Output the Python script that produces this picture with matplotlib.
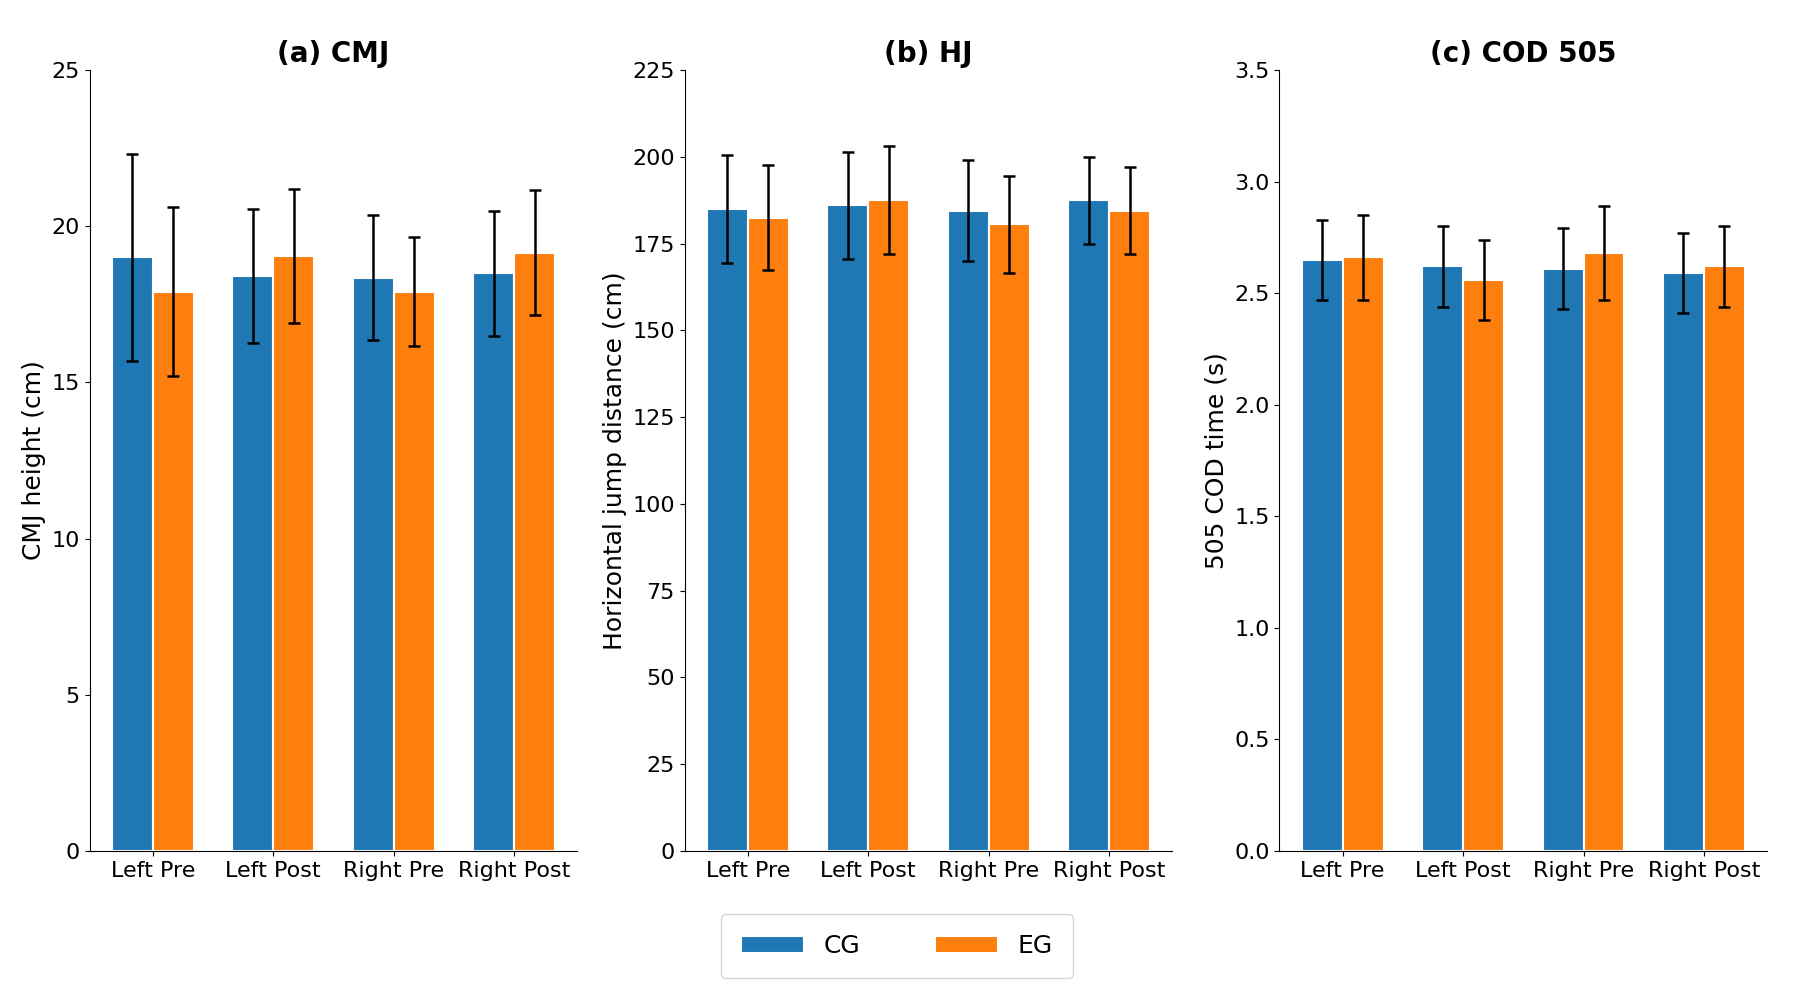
import matplotlib
matplotlib.use("Agg")
import matplotlib.pyplot as plt
import numpy as np

categories = ["Left Pre", "Left Post", "Right Pre", "Right Post"]
cmj_cg = [19.0, 18.4, 18.35, 18.5]; cmj_cg_sd = [3.3, 2.15, 2.0, 2.0]
cmj_eg = [17.9, 19.05, 17.9, 19.15]; cmj_eg_sd = [2.7, 2.15, 1.75, 2.0]
hj_cg = [185.0, 186.0, 184.5, 187.5]; hj_cg_sd = [15.5, 15.5, 14.5, 12.5]
hj_eg = [182.5, 187.5, 180.5, 184.5]; hj_eg_sd = [15.0, 15.5, 14.0, 12.5]
cod_cg = [2.65, 2.62, 2.61, 2.59]; cod_cg_sd = [0.18, 0.18, 0.18, 0.18]
cod_eg = [2.66, 2.56, 2.68, 2.62]; cod_eg_sd = [0.19, 0.18, 0.21, 0.18]

panels = [
    ("(a) CMJ", "CMJ height (cm)", cmj_cg, cmj_cg_sd, cmj_eg, cmj_eg_sd, (0, 25), np.arange(0, 26, 5), "{:.0f}"),
    ("(b) HJ", "Horizontal jump distance (cm)", hj_cg, hj_cg_sd, hj_eg, hj_eg_sd, (0, 225), np.arange(0, 226, 25), "{:.0f}"),
    ("(c) COD 505", "505 COD time (s)", cod_cg, cod_cg_sd, cod_eg, cod_eg_sd, (0, 3.5), np.arange(0, 3.51, 0.5), "{:.1f}"),
]

fig, axes = plt.subplots(1, 3, figsize=(17.94, 10.01), dpi=100)
x = np.arange(len(categories))
w = 0.34
for ax, (title, ylabel, cg, cgs, eg, egs, ylim, ticks, fmt) in zip(axes, panels):
    b1 = ax.bar(x - w/2, cg, w, yerr=cgs, capsize=4, color="#1f77b4", edgecolor="white", linewidth=1.5,
                error_kw=dict(elinewidth=1.8, capthick=1.8), label="CG")
    b2 = ax.bar(x + w/2, eg, w, yerr=egs, capsize=4, color="#ff7f0e", edgecolor="white", linewidth=1.5,
                error_kw=dict(elinewidth=1.8, capthick=1.8), label="EG")
    ax.set_title(title, fontsize=20, fontweight="bold")
    ax.set_ylabel(ylabel, fontsize=18)
    ax.set_ylim(*ylim)
    ax.set_yticks(ticks)
    ax.set_yticklabels([fmt.format(t) for t in ticks])
    ax.set_xticks(x)
    ax.set_xticklabels(categories)
    ax.tick_params(labelsize=16)
    ax.spines["top"].set_visible(False)
    ax.spines["right"].set_visible(False)

fig.subplots_adjust(left=0.05, right=0.985, top=0.93, bottom=0.15, wspace=0.22)
fig.legend(handles=[b1, b2], labels=["CG", "EG"], loc="lower center", ncol=2, fontsize=18,
           bbox_to_anchor=(0.5, 0.01), handlelength=2.5, columnspacing=3, borderpad=0.8)
fig.savefig("out.png", dpi=100)
